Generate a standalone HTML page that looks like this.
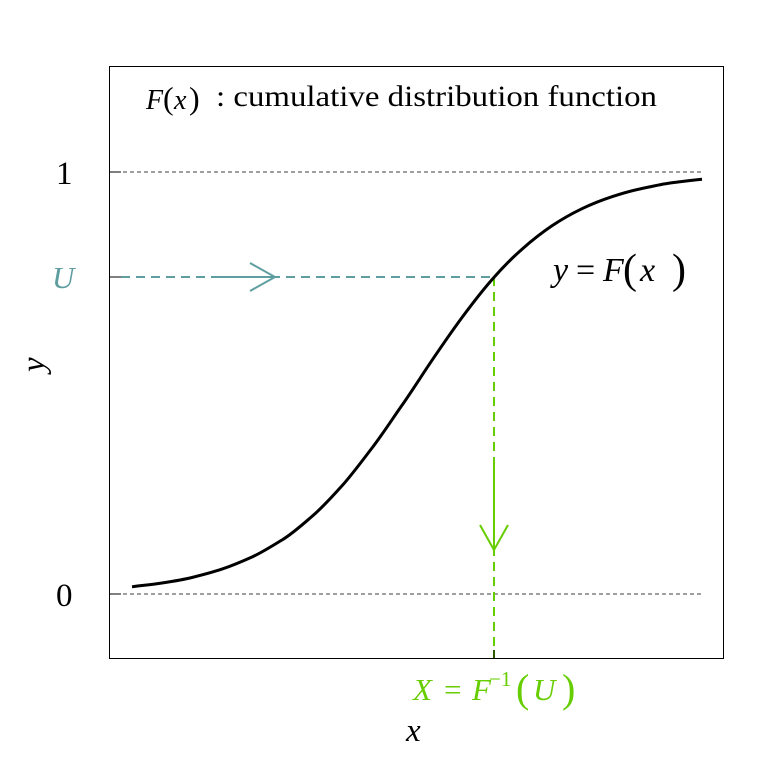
<!DOCTYPE html>
<html><head><style>body{margin:0;background:#fff}svg{display:block}</style></head><body>
<svg width="768" height="768" viewBox="0 0 768 768" xmlns="http://www.w3.org/2000/svg" font-family="Liberation Serif, serif">
<rect x="109.5" y="66.5" width="614" height="592" fill="none" stroke="#000" stroke-width="1"/>
<line x1="109" y1="172" x2="703" y2="172" stroke="#000" stroke-dasharray="4,3" stroke-width="0.8"/>
<line x1="109" y1="594" x2="703" y2="594" stroke="#000" stroke-dasharray="4,3" stroke-width="0.8"/>
<line x1="109" y1="172" x2="121" y2="172" stroke="#000"/>
<line x1="109" y1="594" x2="121" y2="594" stroke="#000"/>
<line x1="109" y1="277" x2="121" y2="277" stroke="#000"/>
<line x1="121" y1="277" x2="494" y2="277" stroke="#5f9ea0" stroke-width="2" stroke-dasharray="9,6"/>
<line x1="218" y1="277" x2="275" y2="277" stroke="#5f9ea0" stroke-width="2"/>
<polyline points="250,263 275,277 250,291" fill="none" stroke="#5f9ea0" stroke-width="2"/>
<line x1="494" y1="277" x2="494" y2="650" stroke="#66cd00" stroke-width="2" stroke-dasharray="9,6"/>
<line x1="494" y1="650" x2="494" y2="658" stroke="#2d5a00" stroke-width="2"/>
<line x1="494" y1="465" x2="494" y2="550" stroke="#66cd00" stroke-width="2"/>
<polyline points="480,525 494,550 508,525" fill="none" stroke="#66cd00" stroke-width="2"/>
<path fill="none" stroke="#000" stroke-width="3" stroke-linejoin="round" d="M132,586.8 C142,585.5 152,584.5 162,583 S182,580 192,577.5 S212,572.5 222,569.1 S242,561.5 252,557 S272,546 282,540 S302,525 312,516.4 S332,497 342,485.8 S362,461 372,448 S392,419.5 402,405.3 S422,375 432,360.3 S452,331 462,317.5 S482,291 492,279.6 S512,258 522,249.2 S542,232.5 552,225.8 S572,213.5 582,208.7 S602,200 612,196.7 S632,190.5 642,188.5 S662,184 672,182.8 S692,180 702,179.2"/>
<text x="146" y="109" font-size="28px" font-style="italic">F</text>
<text x="163" y="109" font-size="32px">(</text>
<text x="174" y="109" font-size="28px" font-style="italic">x</text>
<text x="189" y="109" font-size="32px">)</text>
<text x="216" y="106" font-size="30px" textLength="441" lengthAdjust="spacingAndGlyphs">: cumulative distribution function</text>
<text x="553" y="281" font-size="34px" font-style="italic">y</text>
<text x="576" y="281" font-size="34px">=</text>
<text x="603" y="281" font-size="34px" font-style="italic">F</text>
<text x="623" y="283" font-size="42px">(</text>
<text x="640" y="281" font-size="34px" font-style="italic">x</text>
<text x="672" y="283" font-size="42px">)</text>
<text x="56" y="184" font-size="33px">1</text>
<text x="56" y="606" font-size="33px">0</text>
<text x="52" y="288" font-size="31px" font-style="italic" fill="#5f9ea0">U</text>
<text x="0" y="0" font-size="33px" font-style="italic" transform="translate(44,372) rotate(-90)">y</text>
<text x="406" y="741" font-size="33px" font-style="italic">x</text>
<g fill="#66cd00">
<text x="413" y="700" font-size="31px" font-style="italic">X</text>
<text x="444" y="700" font-size="31px">=</text>
<text x="472" y="700" font-size="31px" font-style="italic">F</text>
<text x="489" y="686" font-size="21px">−1</text>
<text x="516" y="702" font-size="40px">(</text>
<text x="533" y="700" font-size="31px" font-style="italic">U</text>
<text x="562" y="702" font-size="40px">)</text>
</g>
</svg>
</body></html>
